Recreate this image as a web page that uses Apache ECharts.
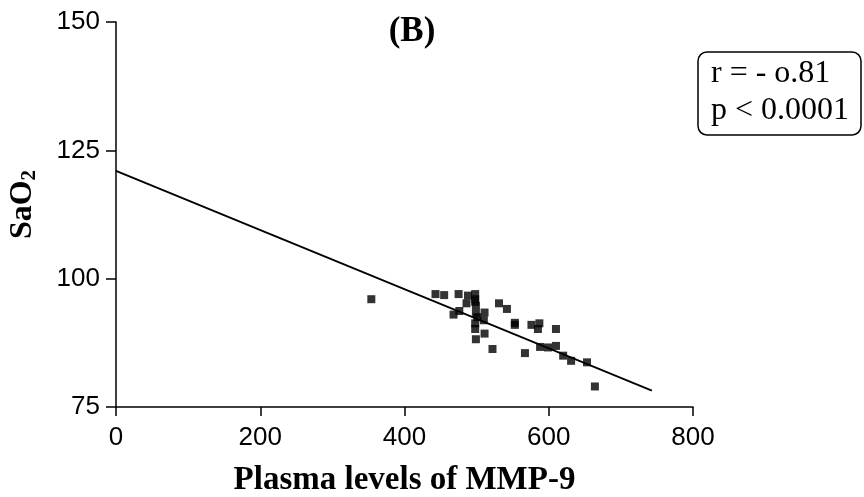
<!DOCTYPE html>
<html>
<head>
<meta charset="utf-8">
<script src="https://cdn.jsdelivr.net/npm/echarts@6/dist/echarts.min.js"></script>
<style>
  html, body { margin: 0; padding: 0; background: #fff; }
  #chart { width: 864px; height: 497px; }
</style>
</head>
<body>
<div id="chart"></div>
<script>
// MMP-9 plasma level vs SaO2
const mmp9 = [354, 443, 455, 475, 488, 498, 486, 498, 499, 531, 542, 476, 468, 499, 511,
  510, 498, 498, 553, 511, 499, 522, 576, 587, 585, 610, 588, 599, 610, 567, 620, 631, 653, 664,
  553, 498, 501];
const sao2 = [96.0, 97.0, 96.8, 97.0, 96.7, 97.0, 95.2, 95.5, 94.7, 95.2, 94.1, 93.7, 93.0, 93.2, 93.4,
  91.9, 91.3, 90.2, 91.4, 89.3, 88.2, 86.3, 91.0, 91.3, 90.2, 90.2, 86.7, 86.6, 86.9, 85.5, 85.0, 84.0, 83.7, 79.0,
  91.0, 96.0, 92.5];
// regression line end points
const fitX = [0, 743];
const fitY = [121, 78.2];
const xTicks = [0, 200, 400, 600, 800];
const yTicks = [75, 100, 125, 150];

const points = mmp9.map((x, i) => [x, sao2[i]]);
const fit = fitX.map((x, i) => [x, fitY[i]]);

const chart = echarts.init(document.getElementById('chart'));
const black = '#000';
const tickStyle = { color: black, width: 1.5 };

chart.setOption({
  animation: false,
  title: [
    {
      text: '(B)',
      left: 407, top: 9, textAlign: 'center',
      textStyle: { fontFamily: 'Liberation Serif', fontWeight: 'bold', fontSize: 35, color: black }
    },
    {
      text: 'r = - o.81\np < 0.0001',
      left: 698, top: 52,
      padding: [3, 12, 6, 13],
      borderColor: black, borderWidth: 1.5, borderRadius: 9,
      textStyle: { fontFamily: 'Liberation Serif', fontWeight: 'normal', fontSize: 32, lineHeight: 37, color: black }
    }
  ],
  grid: { left: 116, right: 171, top: 22, bottom: 90, containLabel: false, outerBoundsMode: 'none' },
  xAxis: {
    type: 'value', min: xTicks[0], max: xTicks[xTicks.length - 1], interval: 200,
    name: 'Plasma levels of MMP-9', nameLocation: 'middle', nameGap: 57,
    nameTextStyle: { fontFamily: 'Liberation Serif', fontWeight: 'bold', fontSize: 33, color: black },
    axisLine: { lineStyle: tickStyle },
    axisTick: { show: true, length: 9, lineStyle: tickStyle },
    axisLabel: { fontFamily: 'Liberation Sans', fontSize: 26, color: black, margin: 18 },
    splitLine: { show: false }
  },
  yAxis: {
    type: 'value', min: yTicks[0], max: yTicks[yTicks.length - 1], interval: 25,
    name: 'SaO{s|2}', nameLocation: 'middle', nameGap: 76, nameTextStyle: {
      fontFamily: 'Liberation Serif', fontWeight: 'bold', fontSize: 32, color: black, padding: [0, 0, 0, 20],
      rich: { s: { fontFamily: 'Liberation Serif', fontWeight: 'bold', fontSize: 21, color: black, padding: [14, 0, 0, 0] } }
    },
    axisLine: { show: true, lineStyle: tickStyle },
    axisTick: { show: true, length: 10, lineStyle: tickStyle },
    axisLabel: { fontFamily: 'Liberation Sans', fontSize: 26, color: black, margin: 16 },
    splitLine: { show: false }
  },
  series: [
    {
      type: 'line', data: fit, symbol: 'none',
      lineStyle: { color: black, width: 1.8 }
    },
    {
      type: 'scatter', data: points, symbol: 'rect', symbolSize: 8,
      itemStyle: { color: black }
    }
  ]
});
</script>
</body>
</html>
